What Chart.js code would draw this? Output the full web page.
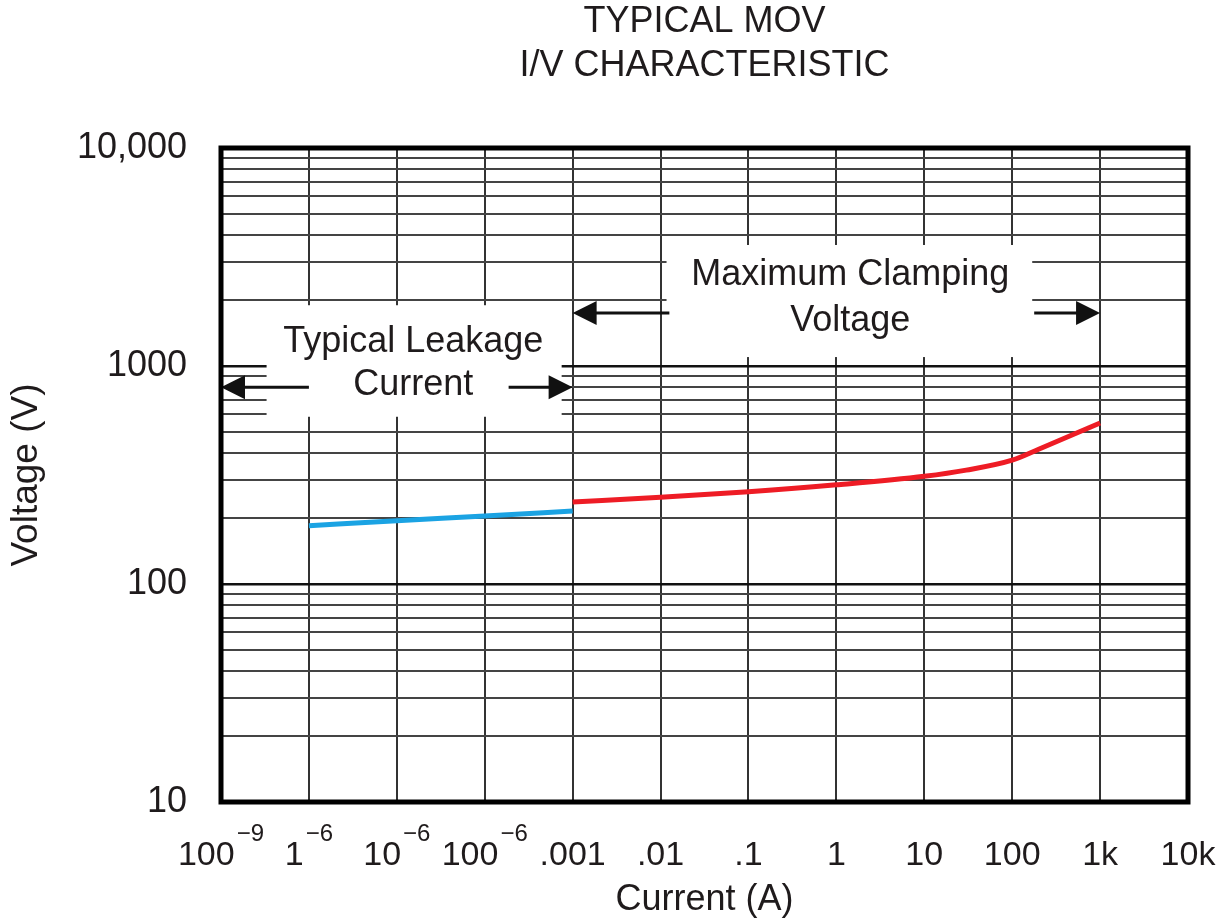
<!DOCTYPE html>
<html>
<head>
<meta charset="utf-8">
<script src="https://cdn.jsdelivr.net/npm/chart.js@4.4.1/dist/chart.umd.min.js"></script>
<style>
html,body{margin:0;padding:0;background:#fff;}
#wrap{width:1230px;height:924px;position:relative;}
</style>
</head>
<body>
<div id="wrap"><canvas id="c"></canvas></div>
<script>
// ---- texts ----
const chartTitle = ['TYPICAL MOV', 'I/V CHARACTERISTIC'];
const xAxisTitle = 'Current (A)';
const yAxisTitle = 'Voltage (V)';

// ---- x axis (log, decades) ----
const xTickValues = [1e-7, 1e-6, 1e-5, 1e-4, 1e-3, 1e-2, 1e-1, 1, 10, 100, 1000, 10000];
const xTickBase   = ['100', '1', '10', '100', '.001', '.01', '.1', '1', '10', '100', '1k', '10k'];
const xTickSup    = ['\u22129', '\u22126', '\u22126', '\u22126', '', '', '', '', '', '', '', ''];

// ---- y axis (log) ----
const yDecades = [10, 100, 1000, 10000];
const yDecadeLabels = ['10', '100', '1000', '10,000'];
const yMinorMultipliers = [2, 3, 4, 5, 6, 7, 8, 9];

// ---- series ----
const leakCurrent = [1e-6, 1e-5, 1e-4, 1e-3];
const leakVoltage = [185, 195, 205, 216];
const clampCurrent = [1e-3, 1e-2, 1e-1, 1, 10, 30, 100, 200, 1000];
const clampVoltage = [238, 250, 265, 285, 312, 333, 370, 415, 548];

// ---- annotation texts ----
const leakLabel = ['Typical Leakage', 'Current'];
const clampLabel = ['Maximum Clamping', 'Voltage'];

const FONT = '"Liberation Sans", Arial, Helvetica, sans-serif';
const TEXT = '#1f1b1c';
Chart.defaults.font.family = FONT;
Chart.defaults.color = TEXT;

function toPoints(xs, ys) { return xs.map((x, i) => ({x: x, y: ys[i]})); }

const yTickValues = [];
yDecades.forEach((d, i) => {
  yTickValues.push(d);
  if (i < yDecades.length - 1) yMinorMultipliers.forEach(m => yTickValues.push(d * m));
});
yTickValues.sort((a, b) => a - b);
function isDecade(v) { return yDecades.some(d => Math.abs(d - v) / d < 1e-6); }

// annotation geometry, in data coordinates
const annotationDefs = [
  { lines: leakLabel, box: [3.3e-7, 7.5e-4, 1900, 585], textX: 1.54e-5, lineY: [1294, 818],
    arrowY: 800, leftArrow: [1e-7, 1e-6], rightArrow: [1.87e-4, 1e-3] },
  { lines: clampLabel, box: [1.17e-2, 169, 3590, 1099], textX: 1.44, lineY: [2600, 1607],
    arrowY: 1750, leftArrow: [1e-3, 1.26e-2], rightArrow: [178, 1000] }
];

function arrowHead(ctx, tipX, y, dir) {
  const L = 24, H = 12;
  ctx.beginPath();
  ctx.moveTo(tipX, y);
  ctx.lineTo(tipX - dir * L, y - H);
  ctx.lineTo(tipX - dir * L, y + H);
  ctx.closePath();
  ctx.fill();
}

const annotationPlugin = {
  id: 'annot',
  beforeDatasetsDraw(chart) {
    const {ctx, scales: {x, y}} = chart;
    ctx.save();
    annotationDefs.forEach(a => {
      const x1 = x.getPixelForValue(a.box[0]), x2 = x.getPixelForValue(a.box[1]);
      const y1 = y.getPixelForValue(a.box[2]), y2 = y.getPixelForValue(a.box[3]);
      ctx.fillStyle = '#fff';
      ctx.fillRect(x1, y1, x2 - x1, y2 - y1);
      ctx.fillStyle = TEXT;
      ctx.font = '36px ' + FONT;
      ctx.textAlign = 'center';
      ctx.textBaseline = 'middle';
      const tx = x.getPixelForValue(a.textX);
      a.lines.forEach((t, i) => ctx.fillText(t, tx, y.getPixelForValue(a.lineY[i])));
      const ay = y.getPixelForValue(a.arrowY);
      ctx.strokeStyle = '#111';
      ctx.fillStyle = '#111';
      ctx.lineWidth = 3;
      const l0 = x.getPixelForValue(a.leftArrow[0]), l1 = x.getPixelForValue(a.leftArrow[1]);
      ctx.beginPath(); ctx.moveTo(l0 + 10, ay); ctx.lineTo(l1, ay); ctx.stroke();
      arrowHead(ctx, l0, ay, -1);
      const r0 = x.getPixelForValue(a.rightArrow[0]), r1 = x.getPixelForValue(a.rightArrow[1]);
      ctx.beginPath(); ctx.moveTo(r0, ay); ctx.lineTo(r1 - 10, ay); ctx.stroke();
      arrowHead(ctx, r1, ay, 1);
    });
    ctx.restore();
  },
  afterDraw(chart) {
    const {ctx, chartArea: ca, scales: {x}} = chart;
    ctx.save();
    // frame
    ctx.strokeStyle = '#000';
    ctx.lineWidth = 5;
    ctx.strokeRect(ca.left, ca.top, ca.right - ca.left, ca.bottom - ca.top);
    // x tick labels with superscripts
    ctx.fillStyle = TEXT;
    ctx.textAlign = 'left';
    ctx.textBaseline = 'alphabetic';
    const baseFont = '34px ' + FONT, supFont = '24px ' + FONT;
    xTickValues.forEach((v, i) => {
      const px = x.getPixelForValue(v);
      ctx.font = baseFont;
      const wb = ctx.measureText(xTickBase[i]).width;
      ctx.font = supFont;
      const ws = xTickSup[i] ? ctx.measureText(xTickSup[i]).width : 0;
      const gap = xTickSup[i] ? 2 : 0;
      const x0 = px - (wb + gap + ws) / 2;
      ctx.font = baseFont;
      ctx.fillText(xTickBase[i], x0, ca.bottom + 63);
      if (xTickSup[i]) {
        ctx.font = supFont;
        ctx.fillText(xTickSup[i], x0 + wb + gap, ca.bottom + 39);
      }
    });
    ctx.restore();
  }
};

new Chart(document.getElementById('c'), {
  type: 'line',
  data: {
    datasets: [
      { label: 'Typical Leakage Current', data: toPoints(leakCurrent, leakVoltage),
        borderColor: '#1ba3e3', borderWidth: 5, pointRadius: 0, fill: false,
        cubicInterpolationMode: 'monotone' },
      { label: 'Maximum Clamping Voltage', data: toPoints(clampCurrent, clampVoltage),
        borderColor: '#ee1c25', borderWidth: 5, pointRadius: 0, fill: false,
        cubicInterpolationMode: 'monotone' }
    ]
  },
  options: {
    responsive: true,
    maintainAspectRatio: false,
    animation: false,
    layout: { padding: { left: 0, right: 42, top: 0, bottom: 0 } },
    plugins: {
      legend: { display: false },
      tooltip: { enabled: false },
      title: {
        display: true, text: chartTitle, fullSize: false, color: TEXT,
        font: { size: 36, weight: 'normal', lineHeight: 44 / 36 },
        padding: { top: 0, bottom: 60 }
      }
    },
    scales: {
      x: {
        type: 'logarithmic', position: 'bottom', min: 1e-7, max: 1e4,
        afterBuildTicks: s => { s.ticks = xTickValues.map(v => ({ value: v, major: true })); },
        afterFit: s => { s.height = 122; },
        ticks: { display: false },
        grid: { color: '#333', lineWidth: 2, drawTicks: false },
        border: { display: false },
        title: { display: true, text: xAxisTitle, color: TEXT,
          font: { size: 36 }, padding: { top: 0, bottom: 2 } }
      },
      y: {
        type: 'logarithmic', position: 'left', min: 10, max: 10000,
        afterBuildTicks: s => { s.ticks = yTickValues.map(v => ({ value: v, major: isDecade(v) })); },
        afterFit: s => { s.width = 221; },
        ticks: {
          autoSkip: false, padding: 34, color: TEXT, font: { size: 36 },
          callback: v => { const i = yDecades.findIndex(d => Math.abs(d - v) / d < 1e-6); return i >= 0 ? yDecadeLabels[i] : ''; }
        },
        grid: {
          drawTicks: false,
          color: c => (c.tick && isDecade(c.tick.value)) ? '#111' : '#444',
          lineWidth: c => (c.tick && isDecade(c.tick.value)) ? 2.5 : 2
        },
        border: { display: false },
        title: { display: true, text: yAxisTitle, color: TEXT,
          font: { size: 37 }, padding: { top: 5, bottom: 0 } }
      }
    }
  },
  plugins: [annotationPlugin]
});
</script>
</body>
</html>
